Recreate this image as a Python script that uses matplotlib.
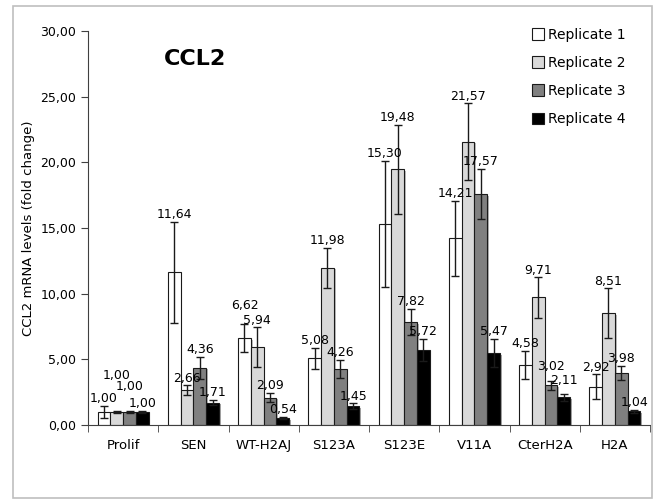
import numpy as np
import matplotlib
matplotlib.use("Agg")
import matplotlib.pyplot as plt
import matplotlib.patheffects as pe
from matplotlib.patches import Rectangle

# данные с графика
groups = ["Prolif", "SEN", "WT-H2AJ", "S123A", "S123E", "V11A", "CterH2A", "H2A"]
reps = ["Replicate 1", "Replicate 2", "Replicate 3", "Replicate 4"]
rep1 = [1.00, 11.64, 6.62, 5.08, 15.30, 14.21, 4.58, 2.92]
rep2 = [1.00, 2.66, 5.94, 11.98, 19.48, 21.57, 9.71, 8.51]
rep3 = [1.00, 4.36, 2.09, 4.26, 7.82, 17.57, 3.02, 3.98]
rep4 = [1.00, 1.71, 0.54, 1.45, 5.72, 5.47, 2.11, 1.04]
err1 = [0.45, 3.85, 1.05, 0.80, 4.80, 2.85, 1.06, 0.94]
err2 = [0.10, 0.35, 1.50, 1.52, 3.40, 2.93, 1.54, 1.90]
err3 = [0.10, 0.85, 0.37, 0.70, 1.00, 1.92, 0.33, 0.54]
err4 = [0.10, 0.20, 0.08, 0.20, 0.83, 1.08, 0.25, 0.10]

values = [rep1, rep2, rep3, rep4]
errors = [err1, err2, err3, err4]
colors = ["white", "#d9d9d9", "#808080", "black"]

# сдвиг подписей, чтобы не налезали
label_nudge = {(0, 1): 2.15, (0, 2): 1.25, (2, 0): 0.9, (6, 2): 0.55, (6, 3): 0.45}

plt.rcParams['font.family'] = 'DejaVu Sans'
fig = plt.figure(figsize=(6.58, 5.0), dpi=100)
fig.patches.append(Rectangle((13 / 658, 2 / 500), 639 / 658, 492 / 500,
                             transform=fig.transFigure, fill=False,
                             edgecolor="#bfbfbf", lw=1.2))
ax = fig.add_axes([88 / 658, 75 / 500, 562 / 658, 394 / 500])

x = np.arange(len(groups))
w = 0.182
shadow = [pe.SimplePatchShadow(offset=(1.2, -1.2), alpha=0.35), pe.Normal()]
for k in range(4):
    pos = x + (k - 1.5) * w
    bars = ax.bar(pos, values[k], w, color=colors[k], edgecolor="#1a1a1a",
                  lw=0.8, label=reps[k], zorder=2)
    for b in bars:
        b.set_path_effects(shadow)
    ax.errorbar(pos, values[k], yerr=errors[k], fmt="none", ecolor="#1a1a1a",
                elinewidth=1, capsize=3, capthick=1, zorder=3)
    for i in range(len(groups)):
        y = values[k][i] + errors[k][i] + 0.55 + label_nudge.get((i, k), 0)
        ax.text(pos[i], y, f"{values[k][i]:.2f}".replace(".", ","),
                ha="center", va="center", fontsize=9, zorder=4)

ax.set_xlim(-0.5, len(groups) - 0.5)
ax.set_ylim(0, 30)
ax.set_yticks(np.arange(0, 31, 5))
ax.set_yticklabels([f"{v:.2f}".replace(".", ",") for v in np.arange(0, 31, 5)], fontsize=9)
ax.set_xticks(x)
ax.set_xticklabels(groups, fontsize=9.5)
ax.set_xticks(np.arange(-0.5, len(groups)), minor=True)
ax.tick_params(axis="x", which="major", length=0, pad=10)
ax.tick_params(axis="x", which="minor", length=5, direction="out", color="#404040")
ax.tick_params(axis="y", length=5, direction="out", color="#404040")
for s in ["top", "right"]:
    ax.spines[s].set_visible(False)
for s in ["left", "bottom"]:
    ax.spines[s].set_color("#404040")
ax.set_ylabel("CCL2 mRNA levels (fold change)", fontsize=9.5, labelpad=4)

ax.text(0.19, 0.955, "CCL2", transform=ax.transAxes, fontsize=16,
        fontweight="bold", ha="center", va="top")

leg = ax.legend(loc="upper left", bbox_to_anchor=(526 / 658, 1 - 22 / 500),
                bbox_transform=fig.transFigure, frameon=False, fontsize=10,
                handlelength=0.9, handleheight=0.9, handletextpad=0.3,
                labelspacing=1.02, borderaxespad=0)
for h in leg.legend_handles:
    h.set_path_effects([])

fig.savefig("out.png", dpi=100)
